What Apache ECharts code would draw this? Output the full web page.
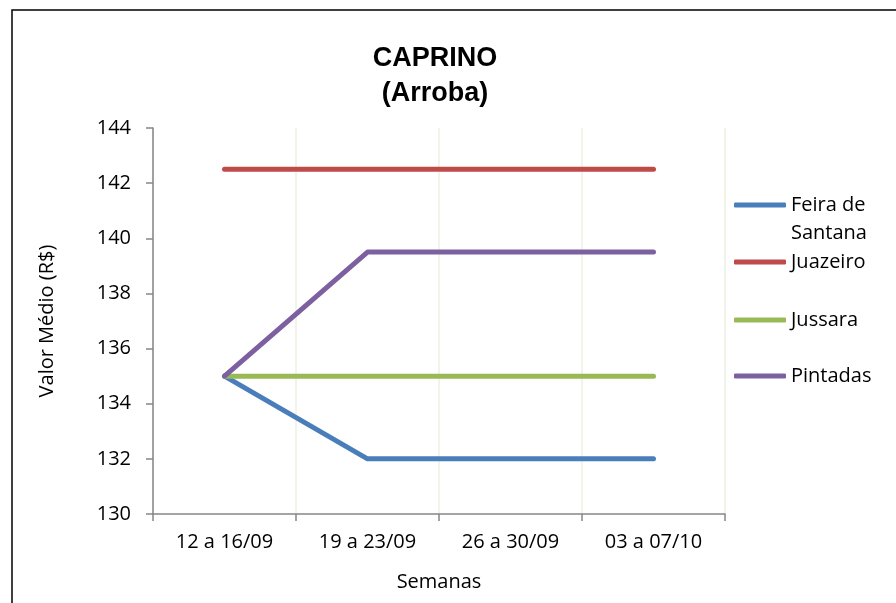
<!DOCTYPE html>
<html>
<head>
<meta charset="utf-8">
<script src="https://cdn.jsdelivr.net/npm/echarts@6/dist/echarts.min.js"></script>
<style>html,body{margin:0;padding:0;background:#fff}#c{width:896px;height:603px}</style>
</head>
<body>
<div id="c"></div>
<script>
var categories = ['12 a 16/09', '19 a 23/09', '26 a 30/09', '03 a 07/10'];
var feiraDeSantana = [135, 132, 132, 132];
var juazeiro = [142.5, 142.5, 142.5, 142.5];
var jussara = [135, 135, 135, 135];
var pintadas = [135, 139.5, 139.5, 139.5];
var yTicks = { min: 130, max: 144, interval: 2 };

var FONT = '"Open Sans", sans-serif';
var chart = echarts.init(document.getElementById('c'));

function mkSeries(name, data, color) {
  return {
    name: name, type: 'line', data: data, symbol: 'none',
    lineStyle: { color: color, width: 5, cap: 'round', join: 'round' },
    itemStyle: { color: color },
    emphasis: { disabled: true }, animation: false
  };
}
function mkLegend(name, top, lh) {
  return {
    data: [{ name: name, icon: 'roundRect' }],
    left: 734, top: top, orient: 'vertical', padding: 0,
    itemWidth: 52, itemHeight: 5, itemGap: 4,
    textStyle: { fontFamily: FONT, fontSize: 20, color: '#000', lineHeight: lh || 24 },
    formatter: function (n) { return n === 'Feira de Santana' ? ' \nFeira de\nSantana' : n; },
    selectedMode: false
  };
}

chart.setOption({
  backgroundColor: '#fff',
  animation: false,
  title: {
    text: 'CAPRINO\n(Arroba)',
    left: 430, top: 36, textAlign: 'center',
    textStyle: { fontFamily: '"Liberation Sans", Arial, sans-serif', fontWeight: 'bold', fontSize: 27, lineHeight: 35, color: '#000' }
  },
  graphic: [{
    type: 'rect', shape: { x: 12, y: 10, width: 900, height: 700 },
    style: { fill: 'none', stroke: '#000', lineWidth: 1.5 }, silent: true
  }],
  legend: [
    mkLegend('Feira de Santana', 205 - 42, 28),
    mkLegend('Juazeiro', 262 - 12),
    mkLegend('Jussara', 320 - 12),
    mkLegend('Pintadas', 376 - 12)
  ],
  grid: { left: 153, right: 171, top: 128, bottom: 89, containLabel: false },
  xAxis: {
    type: 'category', data: categories, boundaryGap: true,
    name: 'Semanas', nameLocation: 'middle', nameGap: 58,
    nameTextStyle: { fontFamily: FONT, fontSize: 20, color: '#000', verticalAlign: 'top' },
    axisLine: { lineStyle: { color: '#868686', width: 1.5 } },
    axisTick: { show: true, length: 7, lineStyle: { color: '#868686', width: 1.5 } },
    axisLabel: { fontFamily: FONT, fontSize: 20, color: '#000', margin: 18 },
    splitLine: { show: true, lineStyle: { color: '#eef0e2', width: 1.5 } }
  },
  yAxis: {
    type: 'value', min: yTicks.min, max: yTicks.max, interval: yTicks.interval,
    name: 'Valor Médio (R$)', nameLocation: 'middle', nameGap: 96,
    nameTextStyle: { fontFamily: FONT, fontSize: 20, color: '#000' },
    axisLine: { show: true, lineStyle: { color: '#868686', width: 1.5 } },
    axisTick: { show: true, length: 7, lineStyle: { color: '#868686', width: 1.5 } },
    axisLabel: { fontFamily: FONT, fontSize: 20, color: '#000', margin: 22 },
    splitLine: { show: false }
  },
  series: [
    mkSeries('Feira de Santana', feiraDeSantana, '#4a7ebb'),
    mkSeries('Juazeiro', juazeiro, '#be4b48'),
    mkSeries('Jussara', jussara, '#98b954'),
    mkSeries('Pintadas', pintadas, '#7d60a0')
  ]
});
</script>
</body>
</html>
